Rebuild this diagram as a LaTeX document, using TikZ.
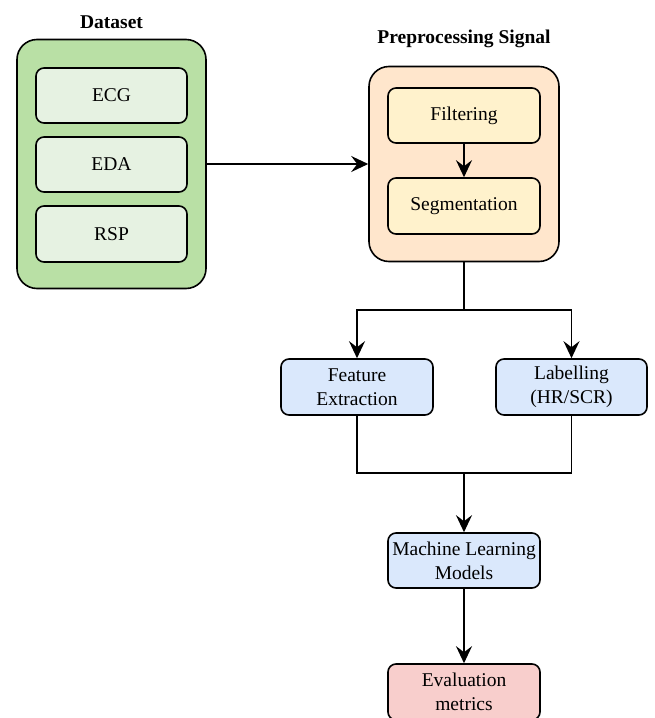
\documentclass[tikz,border=0pt]{standalone}
\usepackage{fontspec}
\setmainfont{Liberation Serif}
\usetikzlibrary{arrows.meta}

\definecolor{setgreen}{HTML}{B9E0A5}
\definecolor{sigbox}{HTML}{E6F2E2}
\definecolor{prepeach}{HTML}{FFE6CC}
\definecolor{stepyellow}{HTML}{FFF2CC}
\definecolor{taskblue}{HTML}{DAE8FC}
\definecolor{evalred}{HTML}{F8CECC}

\begin{document}
\begin{tikzpicture}[x=1pt,y=-1pt,->,>={Stealth[length=17pt,width=16pt,inset=6pt]},
                    line width=1.6pt,font=\fontsize{19.5}{24}\selectfont,
                    group/.style={draw,rounded corners=20pt,inner sep=0pt},
                    box/.style={draw,rounded corners=8pt,align=center,inner sep=0pt,
                                minimum width=152pt,minimum height=55pt},
                    title/.style={font=\fontsize{19.5}{24}\selectfont\bfseries,inner sep=0pt}]
  \clip (0,0) rectangle (654,718);

  % dataset group
  \node[title] (DT) at (111.5,22.5) {Dataset};
  \node[group,fill=setgreen,minimum width=189pt,minimum height=249pt] (DS) at (111.5,164) {};
  \node[box,fill=sigbox,minimum width=151pt] (ECG) at (111.5,95.5) {ECG};
  \node[box,fill=sigbox,minimum width=151pt] (EDA) at (111.5,164.5) {EDA};
  \node[box,fill=sigbox,minimum width=151pt,minimum height=56pt] (RSP) at (111.5,234) {RSP};

  % preprocessing group
  \node[title] (PT) at (464,38.5) {Preprocessing Signal};
  \node[group,fill=prepeach,minimum width=190pt,minimum height=195pt] (PS) at (464,164) {};
  \node[box,fill=stepyellow] (FI) at (464,115.5) {Filtering};
  \node[box,fill=stepyellow,minimum height=56pt] (SG) at (464,206) {Segmentation};

  % tasks
  \node[box,fill=taskblue,minimum height=56pt] (FE) at (357,387) {Feature\\Extraction};
  \node[box,fill=taskblue,minimum width=151pt,minimum height=56pt] (LB) at (571.5,387) {Labelling\\(HR/SCR)};
  \node[box,fill=taskblue] (ML) at (464,560.5) {Machine Learning\\Models};
  \node[box,fill=evalred,minimum height=56pt] (EV) at (464,692) {Evaluation\\metrics};

  \coordinate (split) at (464,310);
  \coordinate (join) at (464,473);

  \path (DS) edge (PS)
        (FI) edge (SG);
  \draw[-] (PS) -- (split);
  \draw (split) -| (FE);
  \draw (split) -| (LB);
  \draw[-] (FE) |- (join);
  \draw[-] (LB) |- (join);
  \draw (join) -- (ML);
  \draw (ML) -- (EV);
\end{tikzpicture}
\end{document}
